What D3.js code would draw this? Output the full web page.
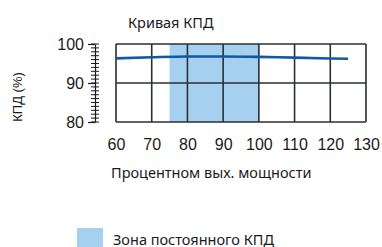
<!DOCTYPE html>
<html>
<head>
<meta charset="utf-8">
<script src="https://cdn.jsdelivr.net/npm/d3@7"></script>
<style>
  body { margin: 0; background: #fff; }
  svg { display: block; }
</style>
</head>
<body>
<svg id="chart"></svg>
<script>
const width = 382, height = 247;
const margin = { top: 44, right: 16, bottom: 125, left: 116 };
const innerWidth = width - margin.left - margin.right;
const innerHeight = height - margin.top - margin.bottom;

// data
const loadPct = [60, 70, 80, 90, 100, 110, 120, 125];
const efficiency = [96.3, 96.6, 96.8, 96.8, 96.7, 96.5, 96.3, 96.2];
const xTicks = [60, 70, 80, 90, 100, 110, 120, 130];
const yTicks = [80, 90, 100];
const zone = [75, 100];

const svg = d3.select('#chart')
  .attr('width', width)
  .attr('height', height);

const x = d3.scaleLinear().domain([60, 130]).range([0, innerWidth]);
const y = d3.scaleLinear().domain([80, 100]).range([innerHeight, 0]);

const g = svg.append('g')
  .attr('transform', `translate(${margin.left}, ${margin.top})`);

// constant efficiency zone
g.append('rect')
  .attr('x', x(zone[0]))
  .attr('y', 0)
  .attr('width', x(zone[1]) - x(zone[0]))
  .attr('height', innerHeight)
  .attr('fill', '#a6d0f0');

// grid
g.selectAll('.vgrid')
  .data(xTicks)
  .enter()
  .append('line')
  .attr('x1', d => x(d)).attr('x2', d => x(d))
  .attr('y1', 0).attr('y2', innerHeight)
  .attr('stroke', '#2b2f33')
  .attr('stroke-width', 1.6);

g.selectAll('.hgrid')
  .data(yTicks)
  .enter()
  .append('line')
  .attr('x1', 0).attr('x2', innerWidth)
  .attr('y1', d => y(d)).attr('y2', d => y(d))
  .attr('stroke', '#2b2f33')
  .attr('stroke-width', 1.6);

// efficiency curve
g.append('path')
  .datum(loadPct.map((d, i) => [d, efficiency[i]]))
  .attr('fill', 'none')
  .attr('stroke', '#0d5aa7')
  .attr('stroke-width', 2.6)
  .attr('d', d3.line().x(d => x(d[0])).y(d => y(d[1])).curve(d3.curveMonotoneX));

// x tick labels
const xAxis = g.append('g')
  .attr('transform', `translate(0, ${innerHeight})`)
  .call(d3.axisBottom(x).tickValues(xTicks).tickSize(0).tickPadding(17));
xAxis.select('.domain').remove();
xAxis.selectAll('text')
  .attr('font-family', 'Liberation Sans, Arial, sans-serif')
  .attr('font-size', 16)
  .attr('fill', '#1a1a1a');

// y axis detached from the plot, minor ticks cross the axis line
const axisX = -21;
g.append('g')
  .selectAll('line')
  .data(y.ticks(20))
  .enter()
  .append('line')
  .attr('x1', axisX - 4).attr('x2', axisX + 4)
  .attr('y1', d => y(d)).attr('y2', d => y(d))
  .attr('stroke', '#1a1a1a')
  .attr('stroke-width', 1);

const yAxis = g.append('g')
  .attr('transform', `translate(${axisX}, 0)`)
  .call(d3.axisLeft(y).tickValues(yTicks).tickSize(7).tickPadding(4).tickSizeOuter(0));
yAxis.select('.domain').attr('stroke', '#1a1a1a').attr('stroke-width', 1.2);
yAxis.selectAll('line').attr('stroke', '#1a1a1a').attr('stroke-width', 1.2);
yAxis.selectAll('text')
  .attr('font-family', 'Liberation Sans, Arial, sans-serif')
  .attr('font-size', 16)
  .attr('fill', '#1a1a1a');

// title
svg.append('text')
  .attr('x', 128).attr('y', 28)
  .attr('font-family', 'Noto Sans, sans-serif')
  .attr('font-size', 14.5)
  .attr('fill', '#1a1a1a')
  .text('Кривая КПД');

// y label
svg.append('text')
  .attr('transform', 'translate(22, 97) rotate(-90)')
  .attr('text-anchor', 'middle')
  .attr('font-family', 'Liberation Sans, Arial, sans-serif')
  .attr('font-size', 13)
  .attr('fill', '#1a1a1a')
  .text('КПД (%)');

// x label
svg.append('text')
  .attr('x', 111).attr('y', 178)
  .attr('font-family', 'Noto Sans, sans-serif')
  .attr('font-size', 14.5)
  .attr('fill', '#1a1a1a')
  .text('Процентном вых. мощности');

// legend
svg.append('rect')
  .attr('x', 77).attr('y', 228)
  .attr('width', 26).attr('height', 19)
  .attr('fill', '#a6d0f0');
svg.append('text')
  .attr('x', 113).attr('y', 245)
  .attr('font-family', 'Noto Sans, sans-serif')
  .attr('font-size', 14.5)
  .attr('fill', '#1a1a1a')
  .text('Зона постоянного КПД');
</script>
</body>
</html>
